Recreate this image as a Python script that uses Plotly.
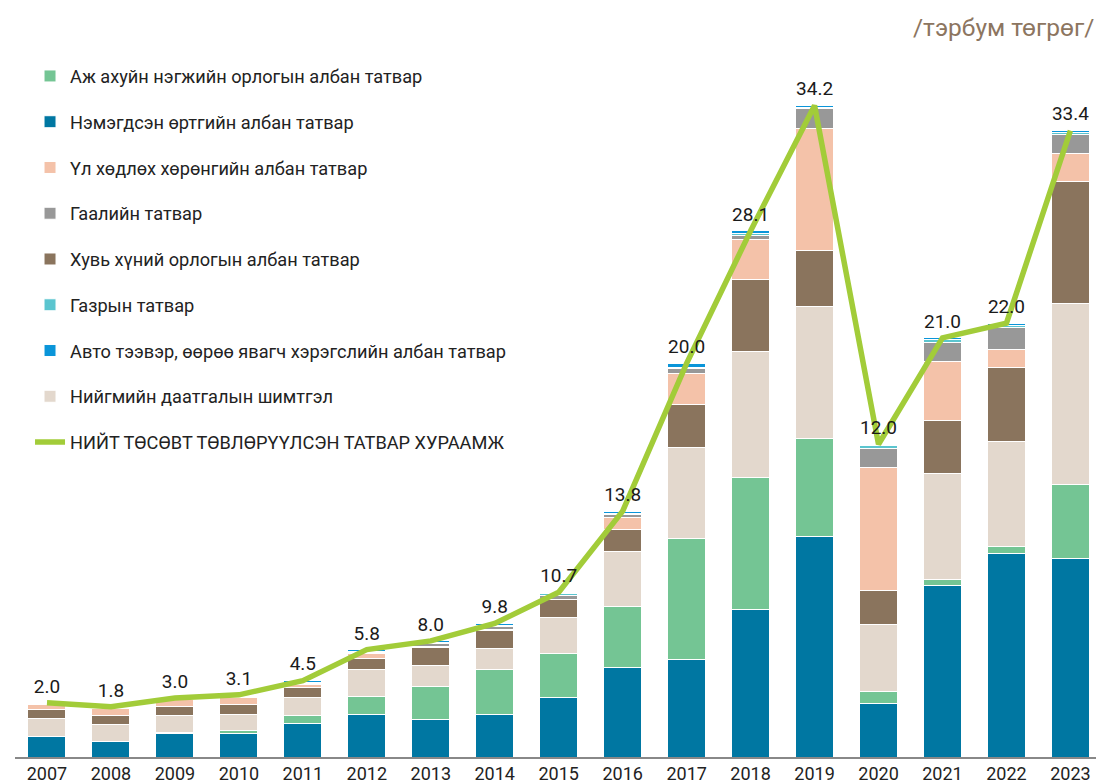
import numpy as np
import plotly.graph_objects as go

years = [str(y) for y in range(2007, 2024)]

vat = [1.08, 0.79, 1.23, 1.24, 1.78, 2.25, 1.95, 2.26, 3.14, 4.70, 5.11, 7.74, 11.63, 2.83, 9.02, 10.73, 10.46]
cit = [0.00, 0.00, 0.04, 0.14, 0.43, 0.93, 1.75, 2.32, 2.32, 3.23, 6.41, 6.95, 5.14, 0.63, 0.33, 0.34, 3.90]
social = [0.97, 0.92, 0.92, 0.87, 0.92, 1.44, 1.12, 1.14, 1.86, 2.88, 4.75, 6.65, 6.95, 3.51, 5.56, 5.54, 9.49]
pit = [0.45, 0.49, 0.49, 0.51, 0.53, 0.59, 0.95, 0.95, 0.95, 1.16, 2.26, 3.81, 2.95, 1.77, 2.82, 3.91, 6.44]
property_tax = [0.26, 0.35, 0.35, 0.38, 0.16, 0.23, 0.05, 0.03, 0.03, 0.62, 1.65, 2.11, 6.42, 6.49, 3.08, 0.94, 1.46]
customs = [0.02, 0.02, 0.02, 0.03, 0.07, 0.08, 0.15, 0.16, 0.20, 0.15, 0.24, 0.20, 1.02, 1.02, 1.03, 1.15, 1.02]
land = [0.05, 0.05, 0.04, 0.05, 0.05, 0.05, 0.05, 0.08, 0.08, 0.09, 0.09, 0.08, 0.07, 0.12, 0.13, 0.11, 0.09]
vehicle = [0.02, 0.02, 0.02, 0.05, 0.08, 0.08, 0.09, 0.09, 0.09, 0.11, 0.21, 0.15, 0.11, 0.09, 0.09, 0.11, 0.11]

total_labels = [2.0, 1.8, 3.0, 3.1, 4.5, 5.8, 8.0, 9.8, 10.7, 13.8, 20.0, 28.1, 34.2, 12.0, 21.0, 22.0, 33.4]

series = [
    ("Нэмэгдсэн өртгийн албан татвар", vat, "#0077a2", 2),
    ("Аж ахуйн нэгжийн орлогын албан татвар", cit, "#74c594", 1),
    ("Нийгмийн даатгалын шимтгэл", social, "#e3d8cd", 8),
    ("Хувь хүний орлогын албан татвар", pit, "#8a745d", 5),
    ("Үл хөдлөх хөрөнгийн албан татвар", property_tax, "#f4c2a9", 3),
    ("Гаалийн татвар", customs, "#989898", 4),
    ("Газрын татвар", land, "#5bc5cf", 6),
    ("Авто тээвэр, өөрөө явагч хэрэгслийн албан татвар", vehicle, "#0a95d9", 7),
]

FONT = "Roboto"
fig = go.Figure()
for name, vals, color, rank in series:
    fig.add_trace(go.Bar(
        x=years, y=vals, name=name, legendrank=rank, legendgroup=name,
        marker=dict(color=color, line=dict(color="white", width=1)),
    ))

stack_top = np.sum([s[1] for s in series], axis=0)
fig.add_trace(go.Scatter(
    x=years, y=stack_top, mode="lines+markers+text", name="НИЙТ ТӨСӨВТ ТӨВЛӨРҮҮЛСЭН ТАТВАР ХУРААМЖ",
    legendrank=9, legendgroup="total",
    line=dict(color="#a2cc39", width=5.5),
    marker=dict(size=7, color="rgba(0,0,0,0)"),
    text=[f"{v:.1f}" for v in total_labels], textposition="top center",
    textfont=dict(family=FONT, size=19, color="#1a1a1a"),
    cliponaxis=False,
))

fig.update_layout(
    width=1096, height=784,
    margin=dict(l=15, r=0, t=30, b=27),
    barmode="stack", bargap=0.406,
    plot_bgcolor="white", paper_bgcolor="white",
    font=dict(family=FONT, color="#222222"),
    showlegend=True,
    legend=dict(
        x=0.0139, xanchor="left", y=0.962, yanchor="top",
        font=dict(family=FONT, size=18.2, color="#222222"),
        traceorder="grouped", tracegroupgap=19.1,
        bgcolor="rgba(0,0,0,0)",
    ),
    xaxis=dict(
        range=[-0.5, 16.4], showgrid=False, showline=True, linecolor="#888888", linewidth=1.5,
        ticks="", tickfont=dict(family=FONT, size=18, color="#222222"), fixedrange=True,
    ),
    yaxis=dict(range=[0, 38.26], visible=False, showgrid=False, zeroline=False, fixedrange=True),
    annotations=[dict(
        text="/тэрбум төгрөг/", xref="paper", yref="paper", x=1.0, y=1.004,
        xanchor="right", yanchor="middle", showarrow=False,
        font=dict(family=FONT, size=24.5, color="#8c7560"),
    )],
)

fig.write_html(
    "out.html",
    config={"displayModeBar": False},
    post_script="document.body.style.margin='0';document.body.style.overflow='hidden';",
)
